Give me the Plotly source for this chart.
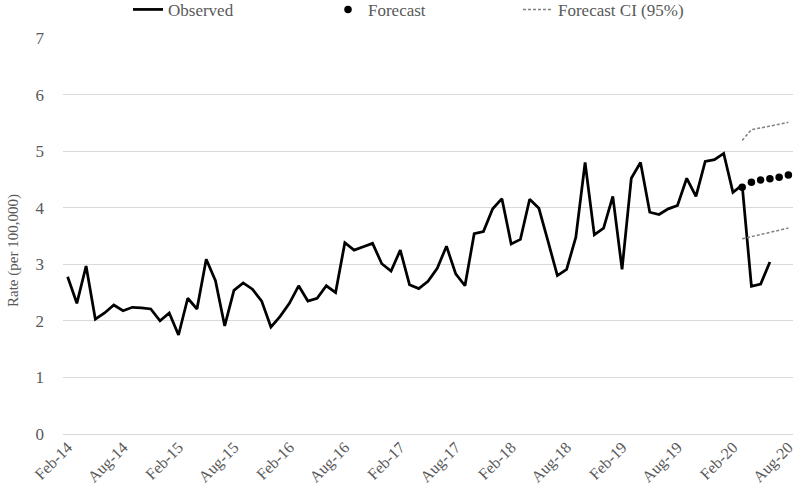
import plotly.graph_objects as go

months = [
    "Feb-14", "Mar-14", "Apr-14", "May-14", "Jun-14", "Jul-14", "Aug-14", "Sep-14", "Oct-14", "Nov-14", "Dec-14",
    "Jan-15", "Feb-15", "Mar-15", "Apr-15", "May-15", "Jun-15", "Jul-15", "Aug-15", "Sep-15", "Oct-15", "Nov-15", "Dec-15",
    "Jan-16", "Feb-16", "Mar-16", "Apr-16", "May-16", "Jun-16", "Jul-16", "Aug-16", "Sep-16", "Oct-16", "Nov-16", "Dec-16",
    "Jan-17", "Feb-17", "Mar-17", "Apr-17", "May-17", "Jun-17", "Jul-17", "Aug-17", "Sep-17", "Oct-17", "Nov-17", "Dec-17",
    "Jan-18", "Feb-18", "Mar-18", "Apr-18", "May-18", "Jun-18", "Jul-18", "Aug-18", "Sep-18", "Oct-18", "Nov-18", "Dec-18",
    "Jan-19", "Feb-19", "Mar-19", "Apr-19", "May-19", "Jun-19", "Jul-19", "Aug-19", "Sep-19", "Oct-19", "Nov-19", "Dec-19",
    "Jan-20", "Feb-20", "Mar-20", "Apr-20", "May-20", "Jun-20", "Jul-20", "Aug-20",
]

observed_months = months[:77]
observed = [
    2.78, 2.31, 2.97, 2.03, 2.14, 2.28, 2.18, 2.24, 2.23, 2.21, 2.00,
    2.14, 1.75, 2.40, 2.21, 3.09, 2.71, 1.91, 2.54, 2.67, 2.56, 2.35, 1.89,
    2.08, 2.31, 2.62, 2.35, 2.40, 2.62, 2.50, 3.38, 3.25, 3.31, 3.37, 3.01,
    2.88, 3.25, 2.64, 2.57, 2.70, 2.93, 3.32, 2.83, 2.62, 3.54, 3.58, 3.98,
    4.16, 3.36, 3.44, 4.15, 3.99, 3.40, 2.80, 2.91, 3.48, 4.80, 3.52, 3.64,
    4.20, 2.91, 4.52, 4.80, 3.92, 3.88, 3.98, 4.04, 4.52, 4.20, 4.82, 4.85,
    4.96, 4.27, 4.40, 2.61, 2.65, 3.04,
]

forecast_months = ["Mar-20", "Apr-20", "May-20", "Jun-20", "Jul-20", "Aug-20"]
forecast = [4.36, 4.45, 4.49, 4.51, 4.54, 4.58]
ci_upper = [5.19, 5.38, 5.41, 5.44, 5.48, 5.51]
ci_lower = [3.45, 3.49, 3.53, 3.57, 3.60, 3.64]

tick_labels = ["Feb-14", "Aug-14", "Feb-15", "Aug-15", "Feb-16", "Aug-16", "Feb-17",
               "Aug-17", "Feb-18", "Aug-18", "Feb-19", "Aug-19", "Feb-20", "Aug-20"]

FONT = "Liberation Serif"
GREY_TXT = "#595959"
FIG_W, FIG_H = 796, 494

fig = go.Figure()
fig.add_trace(go.Scatter(
    x=observed_months, y=observed, mode="lines", name="Observed",
    line=dict(color="black", width=2.75), legend="legend", cliponaxis=False,
))
fig.add_trace(go.Scatter(
    x=forecast_months, y=ci_upper, mode="lines", name="Forecast CI (95%)",
    line=dict(color="#808080", width=1.5, dash="3px,2px"), legend="legend3", cliponaxis=False,
))
fig.add_trace(go.Scatter(
    x=forecast_months, y=ci_lower, mode="lines", name="Forecast CI (95%)",
    line=dict(color="#808080", width=1.5, dash="3px,2px"), showlegend=False, cliponaxis=False,
))
fig.add_trace(go.Scatter(
    x=forecast_months, y=forecast, mode="markers", name="Forecast",
    marker=dict(color="black", size=7.5), legend="legend2", cliponaxis=False,
))

legend_common = dict(
    orientation="h", xref="container", yref="container", y=0.98, yanchor="middle",
    font=dict(family=FONT, size=17, color=GREY_TXT), bgcolor="rgba(0,0,0,0)",
)

fig.update_layout(
    width=FIG_W, height=FIG_H,
    margin=dict(l=63, r=3, t=38, b=60),
    plot_bgcolor="white", paper_bgcolor="white",
    font=dict(family=FONT, color=GREY_TXT),
    legend=dict(x=128 / FIG_W, **legend_common),
    legend2=dict(x=328 / FIG_W, **legend_common),
    legend3=dict(x=518 / FIG_W, **legend_common),
    xaxis=dict(
        type="category", categoryorder="array", categoryarray=months,
        range=[-0.5, len(months) - 0.5], automargin=False,
        tickmode="array", tickvals=tick_labels, ticktext=tick_labels,
        tickangle=-45, showgrid=False, showline=False, ticks="",
        tickfont=dict(family=FONT, size=16, color=GREY_TXT),
    ),
    yaxis=dict(
        range=[0, 7], dtick=1, showgrid=True, gridcolor="#d9d9d9", gridwidth=1,
        zeroline=True, zerolinecolor="#d9d9d9", zerolinewidth=1, automargin=False,
        showline=False, ticks="", ticklabelstandoff=18,
        tickfont=dict(family=FONT, size=17, color=GREY_TXT),
    ),
    annotations=[dict(
        text="Rate (per 100,000)", textangle=-90, showarrow=False,
        xref="paper", yref="paper", x=(13 - 63) / 730.0, y=(434 - 251) / 396.0,
        xanchor="center", yanchor="middle",
        font=dict(family=FONT, size=15, color=GREY_TXT),
    )],
)

# remove the browser's default 8px body margin so the figure fills the window
fig.write_html("out.html", config={"displayModeBar": False},
               post_script="document.body.style.margin='0px';")
